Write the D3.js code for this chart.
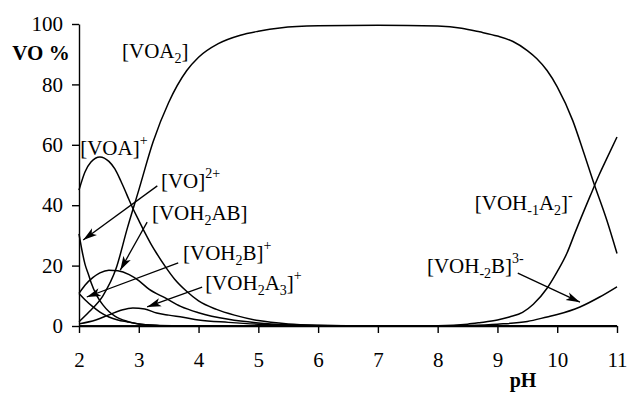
<!DOCTYPE html>
<html>
<head>
<meta charset="utf-8">
<script src="https://cdn.jsdelivr.net/npm/d3@7"></script>
<style>
  html, body { margin: 0; padding: 0; background: #fff; }
  svg { display: block; }
  text { font-family: "Liberation Serif", "Times New Roman", serif; fill: #000; }
</style>
</head>
<body>
<svg id="chart" width="627" height="397"></svg>
<script>
// Species distribution of VO(IV) vs pH, as percent of total vanadium
const xTicks = [2, 3, 4, 5, 6, 7, 8, 9, 10, 11];
const yTicks = [0, 20, 40, 60, 80, 100];

const sVO = [[2,30.5],[2.05,25],[2.1,20.5],[2.16,17],[2.2,14.5],[2.3,10],[2.4,7],[2.5,4.8],[2.6,3.3],[2.8,1.6],[3.0,0.7],[3.3,0.2],[3.6,0.05],[4,0],[11,0]];
const sVOA = [[2,45],[2.1,51],[2.2,54.3],[2.35,56],[2.5,54.5],[2.6,52],[2.7,48],[2.8,43.5],[2.9,39],[3.0,35],[3.1,31],[3.2,27.3],[3.3,24],[3.45,19.5],[3.6,15.5],[3.8,11.5],[4.0,8.3],[4.3,5.5],[4.6,3.6],[5.0,1.8],[5.5,0.7],[6,0.25],[6.5,0.1],[7,0.03],[8,0],[11,0]];
const sVOA2 = [[2,1.4],[2.17,4.7],[2.4,10],[2.62,19],[2.81,32.5],[3.0,45],[3.24,61],[3.5,74],[3.8,84.5],[4.0,89],[4.33,93.5],[4.7,96.3],[5.0,97.6],[5.36,98.7],[6,99.4],[7,99.6],[8,99.3],[8.4,98.6],[8.7,97.4],[9.0,96],[9.26,94.2],[9.5,91.2],[9.66,88.5],[9.83,84.6],[10.0,79.2],[10.26,68],[10.45,57],[10.6,48],[10.83,35],[11,24]];
const sVOH2AB = [[2,10.8],[2.1,13.5],[2.23,16],[2.35,17.6],[2.5,18.5],[2.65,18.3],[2.84,17],[3.0,15],[3.17,12.2],[3.45,9.2],[3.7,6.5],[4.0,4.4],[4.5,2.2],[5,1],[5.5,0.4],[6,0.15],[7,0],[11,0]];
const sVOH2B = [[2,10.8],[2.1,8.7],[2.23,6.4],[2.35,4.6],[2.5,3],[2.65,2],[2.8,1.4],[3.0,0.7],[3.3,0.25],[3.6,0.08],[4,0],[11,0]];
const sVOH2A3 = [[2,0.7],[2.28,2],[2.5,3.7],[2.7,5.2],[2.9,6],[3.1,5.6],[3.3,4.3],[3.5,3.6],[3.74,2.9],[4.0,2.0],[4.5,1.2],[5.0,0.6],[5.5,0.3],[6,0.1],[7,0],[11,0]];
const sVOHm1A2 = [[2,0],[7,0],[8,0.1],[8.5,0.6],[8.7,1.1],[9,2],[9.2,3],[9.42,4.5],[9.6,7.2],[9.83,12.5],[10,18],[10.16,24],[10.3,31],[10.55,43],[10.7,50],[10.83,55.5],[11,62.6]];
const sVOHm2B = [[2,0],[7,0],[8,0.05],[8.5,0.2],[9,0.6],[9.5,1.5],[9.83,3],[10,3.8],[10.38,6.3],[10.71,9.6],[11,13]];

const allSeries = [sVO, sVOA, sVOA2, sVOH2AB, sVOH2B, sVOH2A3, sVOHm1A2, sVOHm2B];

// Species labels: [text, 'n' | 'sub' | 'sup'] runs, anchored in data units
const labelVOA2 = [["[VOA","n"],["2","sub"],["]","n"]];
const labelVOA = [["[VOA]","n"],["+","sup"]];
const labelVO = [["[VO]","n"],["2+","sup"]];
const labelVOH2AB = [["[VOH","n"],["2","sub"],["AB]","n"]];
const labelVOH2B = [["[VOH","n"],["2","sub"],["B]","n"],["+","sup"]];
const labelVOH2A3 = [["[VOH","n"],["2","sub"],["A","n"],["3","sub"],["]","n"],["+","sup"]];
const labelVOHm1A2 = [["[VOH","n"],["-1","sub"],["A","n"],["2","sub"],["]","n"],["-","sup"]];
const labelVOHm2B = [["[VOH","n"],["-2","sub"],["B]","n"],["3-","sup"]];

const labels = [
  {runs: labelVOA2, at: [2.72, 88.9]},
  {runs: labelVOA, at: [2.02, 56.6]},
  {runs: labelVO, at: [3.37, 45.7]},
  {runs: labelVOH2AB, at: [3.22, 35]},
  {runs: labelVOH2B, at: [3.74, 21.9]},
  {runs: labelVOH2A3, at: [4.11, 11.9]},
  {runs: labelVOHm1A2, at: [8.62, 38.4]},
  {runs: labelVOHm2B, at: [7.82, 17.5]}
];

// Annotation arrows: [from pH, from %, to pH, to %]
const arrows = [
  [3.31, 46.4, 2.07, 28.5],
  [3.14, 34.4, 2.69, 18.5],
  [3.66, 20.9, 2.13, 9.6],
  [4.06, 12.9, 3.14, 6.3],
  [9.34, 17.5, 10.38, 7.9]
];

const svg = d3.select("#chart");
const x = d3.scaleLinear().domain([2, 11]).range([79, 617]);
const y = d3.scaleLinear().domain([0, 100]).range([326, 24]);

// Axes
const xAxis = d3.axisBottom(x).tickValues(xTicks).tickSize(7).tickSizeOuter(0).tickPadding(8);
const yAxis = d3.axisLeft(y).tickValues(yTicks).tickSize(7).tickSizeOuter(0).tickPadding(9);

const gx = svg.append("g").attr("transform", "translate(0,326)").call(xAxis);
const gy = svg.append("g").attr("transform", "translate(79,0)").call(yAxis);
[gx, gy].forEach(g => {
  g.attr("font-family", null).attr("font-size", null);
  g.select(".domain").attr("stroke", "#000").attr("stroke-width", 1.4);
  g.selectAll(".tick line").attr("stroke", "#000").attr("stroke-width", 1.4);
  g.selectAll(".tick text").attr("font-size", 21).attr("fill", "#000");
});
gx.selectAll(".tick text").attr("dy", "1.25em");

svg.append("text").attr("x", 41).attr("y", 60).attr("text-anchor", "middle")
  .attr("font-size", 21).attr("font-weight", "bold").text("VO %");
svg.append("text").attr("x", 523).attr("y", 387).attr("text-anchor", "middle")
  .attr("font-size", 20).attr("font-weight", "bold").text("pH");

// Curves
const line = d3.line().x(d => x(d[0])).y(d => y(d[1])).curve(d3.curveMonotoneX);
svg.append("g").selectAll("path").data(allSeries).join("path")
  .attr("d", line).attr("fill", "none").attr("stroke", "#000")
  .attr("stroke-width", 1.5).attr("stroke-linejoin", "round");

// Arrowhead marker
svg.append("defs").append("marker")
  .attr("id", "head").attr("markerUnits", "userSpaceOnUse")
  .attr("markerWidth", 16).attr("markerHeight", 10)
  .attr("refX", 14).attr("refY", 5).attr("orient", "auto")
  .append("path").attr("d", "M0,0.8 L14,5 L0,9.2 L3.5,5 Z").attr("fill", "#000");

svg.append("g").selectAll("line").data(arrows).join("line")
  .attr("x1", d => x(d[0])).attr("y1", d => y(d[1]))
  .attr("x2", d => x(d[2])).attr("y2", d => y(d[3]))
  .attr("stroke", "#000").attr("stroke-width", 1.3)
  .attr("marker-end", "url(#head)");

// Labels with sub/superscripts
const lg = svg.append("g");
labels.forEach(l => {
  const t = lg.append("text").attr("x", x(l.at[0])).attr("y", y(l.at[1])).attr("font-size", 21);
  let shift = 0;
  l.runs.forEach(([s, kind]) => {
    const target = kind === "sub" ? 5 : kind === "sup" ? -10 : 0;
    t.append("tspan").attr("dy", target - shift)
      .attr("font-size", kind === "n" ? 21 : 14).text(s);
    shift = target;
  });
});
</script>
</body>
</html>
